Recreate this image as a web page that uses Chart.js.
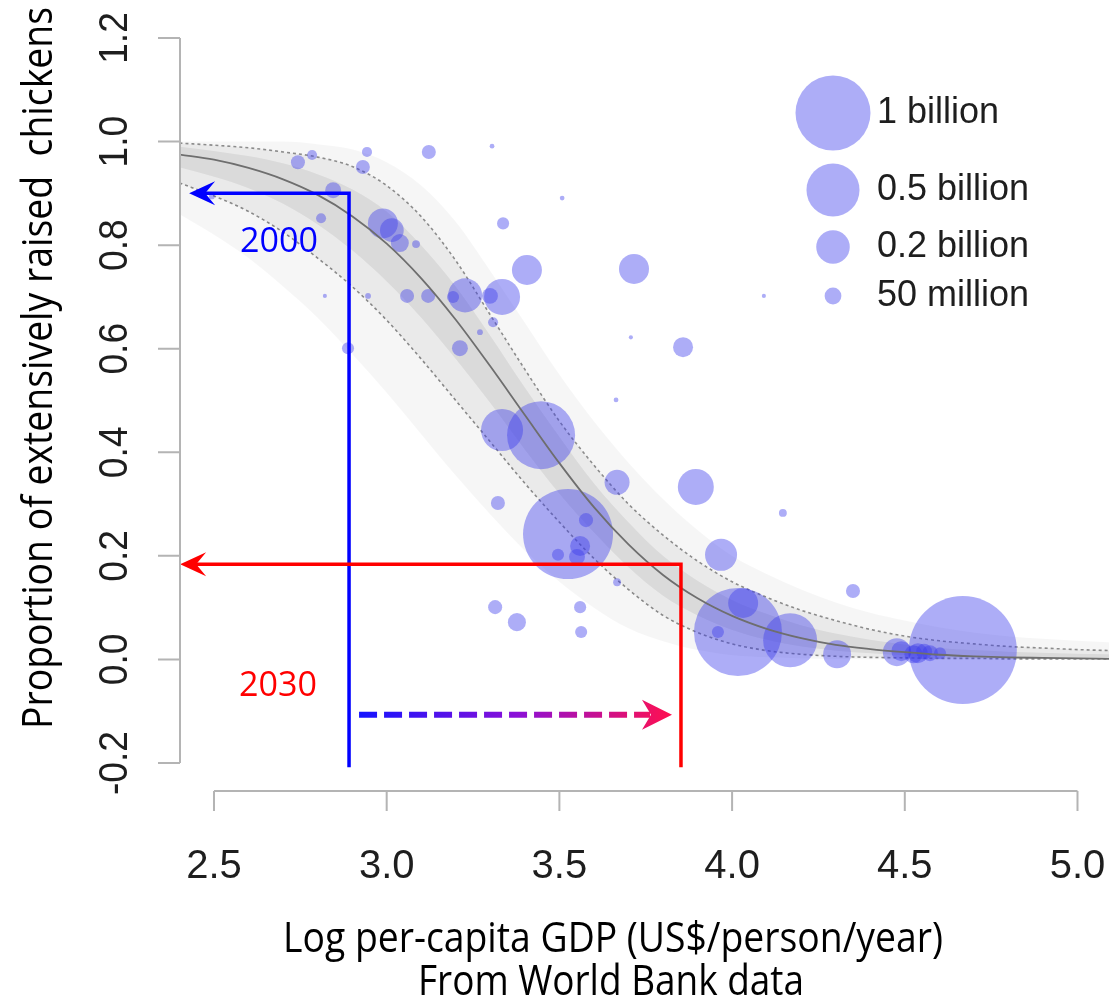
<!DOCTYPE html>
<html>
<head>
<meta charset="utf-8">
<script src="https://cdn.jsdelivr.net/npm/chart.js@4.4.1/dist/chart.umd.min.js"></script>
<style>
  html, body { margin: 0; padding: 0; background: #fff; }
  canvas { display: block; }
</style>
</head>
<body>
<canvas id="chickenChart" width="1109" height="1002"></canvas>
<script>
// x grid for the fitted curve and its bands (log GDP)
const gdpGrid = [2.4, 2.5, 2.6, 2.7, 2.8, 2.9, 3.0, 3.1, 3.2, 3.3, 3.4, 3.5, 3.6, 3.7,
  3.8, 3.9, 4.0, 4.1, 4.2, 4.3, 4.4, 4.5, 4.6, 4.7, 4.8, 4.9, 5.0, 5.1];

const fitCentre = [0.975, 0.965, 0.949, 0.927, 0.897, 0.856, 0.803, 0.736, 0.656, 0.566,
  0.472, 0.379, 0.294, 0.222, 0.163, 0.118, 0.084, 0.059, 0.041, 0.028, 0.020, 0.014,
  0.009, 0.006, 0.004, 0.003, 0.002, 0.001];
const bandUpper = [0.997, 0.993, 0.988, 0.980, 0.970, 0.952, 0.915, 0.855, 0.770, 0.665,
  0.560, 0.460, 0.375, 0.300, 0.240, 0.190, 0.150, 0.120, 0.095, 0.075, 0.058, 0.045,
  0.036, 0.030, 0.025, 0.022, 0.019, 0.017];
const bandLower = [0.920, 0.895, 0.865, 0.825, 0.775, 0.720, 0.655, 0.580, 0.500, 0.420,
  0.340, 0.265, 0.195, 0.135, 0.085, 0.052, 0.030, 0.017, 0.010, 0.006, 0.004, 0.003,
  0.002, 0.002, 0.001, 0.001, 0.001, 0.001];
const innerUpper = [0.990, 0.982, 0.972, 0.958, 0.937, 0.908, 0.865, 0.800, 0.720, 0.625,
  0.525, 0.430, 0.340, 0.265, 0.200, 0.152, 0.115, 0.088, 0.066, 0.050, 0.038, 0.029,
  0.022, 0.018, 0.015, 0.013, 0.011, 0.010];
const innerLower = [0.950, 0.932, 0.910, 0.880, 0.840, 0.790, 0.730, 0.660, 0.580, 0.495,
  0.405, 0.320, 0.245, 0.178, 0.123, 0.085, 0.057, 0.038, 0.025, 0.017, 0.012, 0.008,
  0.006, 0.004, 0.003, 0.002, 0.002, 0.001];
const outerUpper = [1.0, 1.0, 1.0, 1.0, 0.995, 0.985, 0.960, 0.915, 0.845, 0.750,
  0.650, 0.550, 0.460, 0.380, 0.310, 0.250, 0.200, 0.165, 0.135, 0.110, 0.090, 0.075,
  0.062, 0.052, 0.045, 0.040, 0.036, 0.033];
const outerLower = [0.860, 0.820, 0.775, 0.720, 0.660, 0.590, 0.515, 0.435, 0.355, 0.280,
  0.210, 0.150, 0.100, 0.060, 0.035, 0.018, 0.008, 0.004, 0.002, 0.001, 0, 0,
  0, 0, 0, 0, 0, 0];

// countries: log GDP, share extensive, chicken population (millions)
const bubbleGdp = [2.743, 2.784, 2.943, 2.931, 3.122, 3.305, 2.845, 2.810, 2.494, 2.989,
  3.015, 3.038, 3.085, 3.337, 3.508, 3.406, 3.227, 3.334, 3.299, 3.059,
  3.120, 2.946, 3.192, 3.308, 3.270, 3.212, 2.888, 3.716, 3.858, 3.707,
  3.664, 4.092, 2.821, 3.334, 3.447, 3.667, 3.895, 4.147, 3.322, 3.525,
  3.577, 3.560, 3.496, 3.551, 3.968, 3.667, 3.314, 3.377, 3.560, 3.563,
  4.350, 4.017, 4.032, 3.959, 4.168, 4.304, 4.477, 4.538, 4.573, 4.602, 4.668,
  4.490, 4.525, 4.556];
const bubbleShare = [0.960, 0.974, 0.980, 0.951, 0.980, 0.991, 0.906, 0.852, 0.894, 0.842,
  0.829, 0.804, 0.802, 0.842, 0.891, 0.752, 0.703, 0.700, 0.702, 0.702,
  0.702, 0.702, 0.700, 0.651, 0.632, 0.601, 0.601, 0.754, 0.603, 0.622,
  0.501, 0.702, 0.702, 0.443, 0.433, 0.342, 0.333, 0.283, 0.302, 0.242,
  0.269, 0.219, 0.202, 0.198, 0.202, 0.149, 0.101, 0.072, 0.101, 0.053,
  0.132, 0.053, 0.109, 0.053, 0.037, 0.010, 0.014, 0.012, 0.012, 0.012, 0.018,
  0.016, 0.010, 0.015];
const bubblePop = [35, 18, 18, 35, 35, 4, 45, 18, 6, 160,
  100, 58, 11, 26, 4, 160, 206, 230, 45, 35,
  35, 6, 26, 18, 6, 45, 26, 160, 71, 3,
  4, 3, 3, 314, 822, 111, 230, 11, 35, 1440,
  35, 71, 26, 45, 182, 11, 35, 58, 26, 26,
  35, 1377, 160, 26, 518, 139, 139, 71, 45, 26, 2074,
  71, 58, 45];

const legendPop = [1000, 500, 200, 50];
const legendLabels = ["1 billion", "0.5 billion", "0.2 billion", "50 million"];

const xTicks = [2.5, 3.0, 3.5, 4.0, 4.5, 5.0];
const yTicks = [-0.2, 0.0, 0.2, 0.4, 0.6, 0.8, 1.0, 1.2];

// annotations (log GDP / share)
const year2000 = { gdp: 2.891, share: 0.900, tip: 2.428, label: "2000", labelGdp: 2.688, labelShare: 0.805 };
const year2030 = { gdp: 3.852, share: 0.184, tip: 2.402, label: "2030", labelGdp: 2.685, labelShare: -0.051 };
const shiftArrow = { from: 2.92, to: 3.826, share: -0.107 };
const annotationBase = -0.208;

const bubbleColor = "rgba(60, 60, 235, 0.42)";
const bubbleRadius = (pop) => 37.5 * Math.sqrt(pop / 1000);

const toPoints = (ys) => gdpGrid.map((x, i) => ({ x: x, y: ys[i] }));

function fitText(ctx, text, x, y, width, font, rotate) {
  ctx.save();
  ctx.font = font;
  const w = ctx.measureText(text).width;
  ctx.translate(x, y);
  if (rotate) ctx.rotate(-Math.PI / 2);
  ctx.scale(width / w, 1);
  ctx.textAlign = "center";
  ctx.fillText(text, 0, 0);
  ctx.restore();
}

function arrowHead(ctx, tipX, tipY, dir, len, halfW, notch) {
  ctx.beginPath();
  ctx.moveTo(tipX, tipY);
  ctx.lineTo(tipX + dir * len, tipY - halfW);
  ctx.lineTo(tipX + dir * (len - notch), tipY);
  ctx.lineTo(tipX + dir * len, tipY + halfW);
  ctx.closePath();
  ctx.fill();
}

// R style axes, titles and the size legend
const rAxes = {
  id: "rAxes",
  afterDraw(chart) {
    const { ctx, scales: { x, y } } = chart;
    ctx.save();
    ctx.strokeStyle = "#b4b4b4";
    ctx.lineWidth = 2;

    // x axis
    const axisY = 791;
    ctx.beginPath();
    ctx.moveTo(x.getPixelForValue(xTicks[0]), axisY);
    ctx.lineTo(x.getPixelForValue(xTicks[xTicks.length - 1]), axisY);
    xTicks.forEach((t) => {
      const px = x.getPixelForValue(t);
      ctx.moveTo(px, axisY);
      ctx.lineTo(px, axisY + 20);
    });
    ctx.stroke();

    // y axis
    const axisX = chart.chartArea.left;
    ctx.beginPath();
    ctx.moveTo(axisX, y.getPixelForValue(yTicks[0]));
    ctx.lineTo(axisX, y.getPixelForValue(yTicks[yTicks.length - 1]));
    yTicks.forEach((t) => {
      const py = y.getPixelForValue(t);
      ctx.moveTo(axisX, py);
      ctx.lineTo(axisX - 22, py);
    });
    ctx.stroke();

    ctx.fillStyle = "#1e1e1e";
    ctx.font = "40px 'Liberation Sans', Arial, sans-serif";
    ctx.textAlign = "center";
    ctx.textBaseline = "middle";
    xTicks.forEach((t) => {
      ctx.fillText(t.toFixed(1), x.getPixelForValue(t), 867);
    });
    yTicks.forEach((t) => {
      ctx.save();
      ctx.translate(116, y.getPixelForValue(t));
      ctx.rotate(-Math.PI / 2);
      ctx.scale(0.93, 1);
      ctx.fillText(t.toFixed(1), 0, 0);
      ctx.restore();
    });

    // titles
    ctx.fillStyle = "#000";
    ctx.textBaseline = "alphabetic";
    const titleFont = "42px 'Open Sans', 'Noto Sans', sans-serif";
    fitText(ctx, "Log per-capita GDP (US$/person/year)", 613, 952, 660, titleFont);
    fitText(ctx, "From World Bank data", 611, 995, 386, titleFont);
    ctx.textBaseline = "middle";
    fitText(ctx, "Proportion of extensively raised  chickens", 40, 368, 722, titleFont, true);

    // size legend
    const legendY = [113, 190, 247, 296];
    legendPop.forEach((p, i) => {
      ctx.fillStyle = bubbleColor;
      ctx.beginPath();
      ctx.arc(833, legendY[i], bubbleRadius(p), 0, Math.PI * 2);
      ctx.fill();
      ctx.fillStyle = "#1e1e1e";
      ctx.font = "36px 'Liberation Sans', Arial, sans-serif";
      ctx.textAlign = "left";
      ctx.fillText(legendLabels[i], 877, legendY[i]);
    });
    ctx.restore();
  },
};

// 2000 / 2030 arrows
const yearArrows = {
  id: "yearArrows",
  afterDatasetsDraw(chart) {
    const { ctx, scales: { x, y } } = chart;
    ctx.save();
    const base = y.getPixelForValue(annotationBase);

    [[year2000, "#0000ff"], [year2030, "#ff0000"]].forEach(([a, col]) => {
      const vx = x.getPixelForValue(a.gdp);
      const hy = y.getPixelForValue(a.share);
      const tx = x.getPixelForValue(a.tip);
      ctx.strokeStyle = col;
      ctx.fillStyle = col;
      ctx.lineWidth = 3.5;
      ctx.beginPath();
      ctx.moveTo(vx, base);
      ctx.lineTo(vx, hy);
      ctx.lineTo(tx + 14, hy);
      ctx.stroke();
      arrowHead(ctx, tx, hy, 1, 26, 12, 10);
      ctx.textBaseline = "middle";
      fitText(ctx, a.label, x.getPixelForValue(a.labelGdp), y.getPixelForValue(a.labelShare),
        78, "34px 'Open Sans', 'Noto Sans', sans-serif");
    });

    // dashed shift arrow
    const x0 = x.getPixelForValue(shiftArrow.from);
    const x1 = x.getPixelForValue(shiftArrow.to);
    const sy = y.getPixelForValue(shiftArrow.share);
    const grad = ctx.createLinearGradient(x0, 0, x1, 0);
    grad.addColorStop(0, "#1414ff");
    grad.addColorStop(0.5, "#8a10d8");
    grad.addColorStop(1, "#ff1050");
    ctx.strokeStyle = grad;
    ctx.fillStyle = grad;
    ctx.lineWidth = 6;
    ctx.setLineDash([18, 7]);
    ctx.beginPath();
    ctx.moveTo(x0, sy);
    ctx.lineTo(x1 - 22, sy);
    ctx.stroke();
    ctx.setLineDash([]);
    arrowHead(ctx, x1, sy, -1, 30, 15, 9);
    ctx.restore();
  },
};

const ctx = document.getElementById("chickenChart").getContext("2d");

new Chart(ctx, {
  type: "bubble",
  data: {
    datasets: [
      {
        type: "line",
        data: toPoints(outerUpper),
        borderWidth: 0,
        pointRadius: 0,
        fill: "+1",
        backgroundColor: "rgba(0,0,0,0.035)",
        cubicInterpolationMode: "monotone",
        order: 5,
      },
      {
        type: "line",
        data: toPoints(outerLower),
        borderWidth: 0,
        pointRadius: 0,
        fill: false,
        cubicInterpolationMode: "monotone",
        order: 5,
      },
      {
        type: "line",
        data: toPoints(innerUpper),
        borderWidth: 0,
        pointRadius: 0,
        fill: "+1",
        backgroundColor: "rgba(0,0,0,0.07)",
        cubicInterpolationMode: "monotone",
        order: 4,
      },
      {
        type: "line",
        data: toPoints(innerLower),
        borderWidth: 0,
        pointRadius: 0,
        fill: false,
        cubicInterpolationMode: "monotone",
        order: 4,
      },
      {
        type: "line",
        data: toPoints(bandUpper),
        borderColor: "#8c8c8c",
        borderWidth: 1.6,
        borderDash: [3, 3],
        pointRadius: 0,
        fill: "+1",
        backgroundColor: "rgba(0,0,0,0.05)",
        cubicInterpolationMode: "monotone",
        order: 3,
      },
      {
        type: "line",
        data: toPoints(bandLower),
        borderColor: "#8c8c8c",
        borderWidth: 1.6,
        borderDash: [3, 3],
        pointRadius: 0,
        fill: false,
        cubicInterpolationMode: "monotone",
        order: 3,
      },
      {
        data: bubbleGdp.map((g, i) => ({ x: g, y: bubbleShare[i], r: bubbleRadius(bubblePop[i]) })),
        backgroundColor: bubbleColor,
        borderWidth: 0,
        order: 2,
      },
      {
        type: "line",
        data: toPoints(fitCentre),
        borderColor: "#6e6e6e",
        borderWidth: 1.8,
        pointRadius: 0,
        fill: false,
        cubicInterpolationMode: "monotone",
        order: 1,
      },
    ],
  },
  options: {
    responsive: false,
    animation: false,
    devicePixelRatio: 1,
    layout: { autoPadding: false, padding: { left: 180, top: 38, right: 0, bottom: 239 } },
    scales: {
      x: { type: "linear", min: 2.4016, max: 5.0912, display: false },
      y: { type: "linear", min: -0.2, max: 1.2, display: false },
    },
    plugins: {
      legend: { display: false },
      tooltip: { enabled: false },
    },
  },
  plugins: [rAxes, yearArrows],
});
</script>
</body>
</html>
